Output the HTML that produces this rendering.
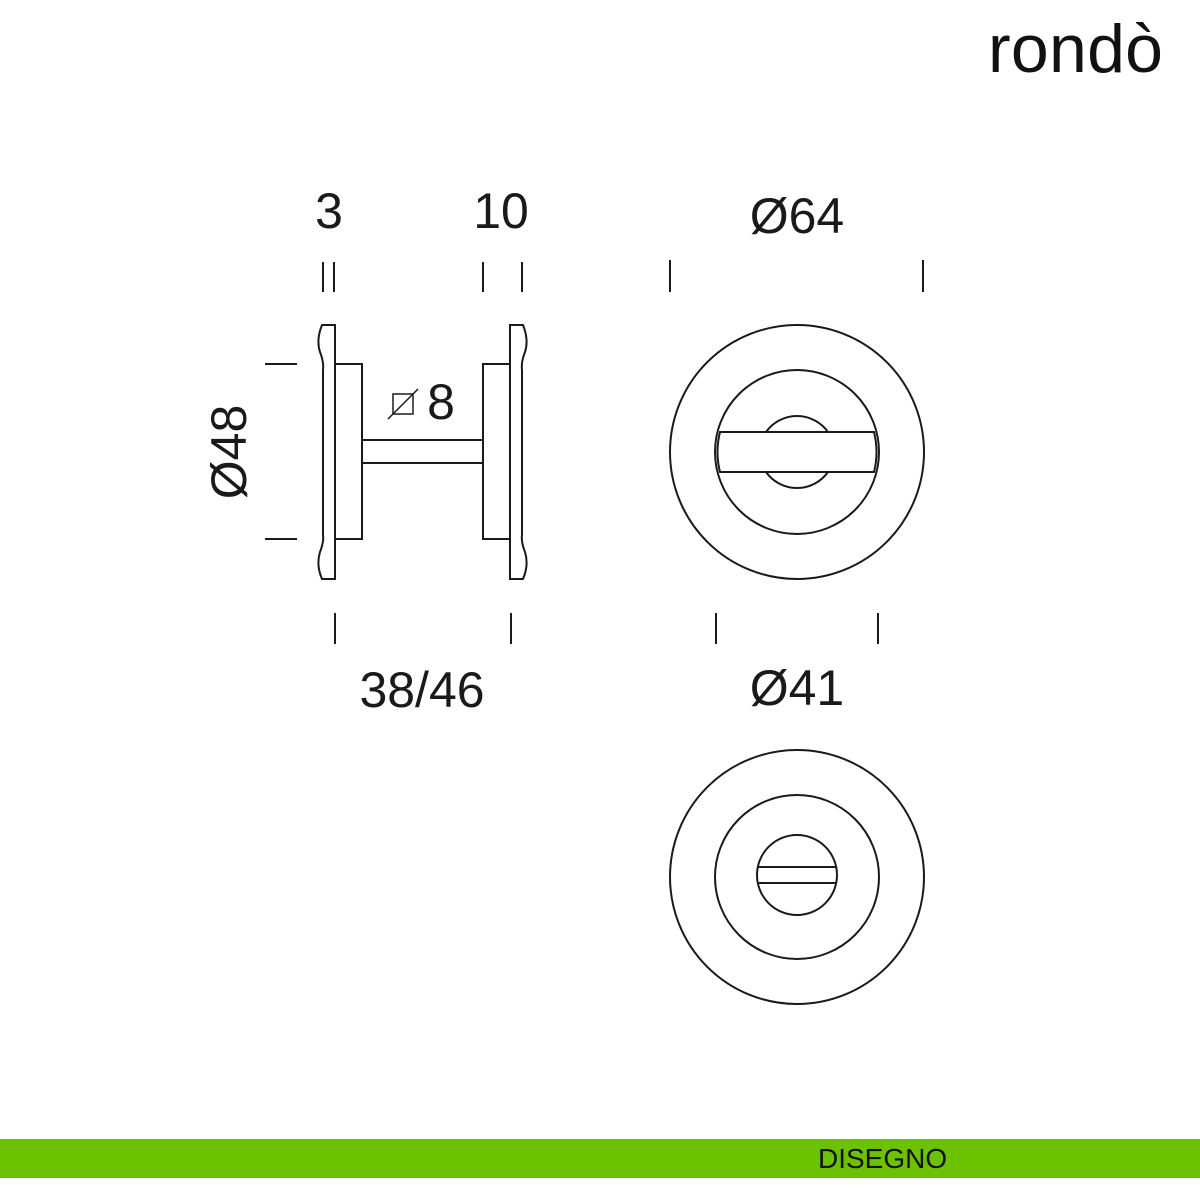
<!DOCTYPE html>
<html><head><meta charset="utf-8"><style>
html,body{margin:0;padding:0;background:#fff;width:1200px;height:1200px;overflow:hidden}
</style></head><body>
<svg width="1200" height="1200" viewBox="0 0 1200 1200" xmlns="http://www.w3.org/2000/svg" font-family="Liberation Sans, sans-serif">
<rect width="1200" height="1200" fill="#fff"/>
<text x="988" y="72" font-size="68" fill="#111" textLength="175">rondò</text>
<g fill="#1a1a1a" font-size="50">
<text x="329" y="228" text-anchor="middle">3</text>
<text x="501" y="228" text-anchor="middle">10</text>
<text x="797" y="233" text-anchor="middle">Ø64</text>
<text x="797" y="705" text-anchor="middle">Ø41</text>
<text x="422" y="707" text-anchor="middle">38/46</text>
<text x="441" y="419" text-anchor="middle">8</text>
<text transform="translate(246,452) rotate(-90)" text-anchor="middle">Ø48</text>
</g>
<g stroke="#1a1a1a" stroke-width="2" fill="none">
<line x1="323" y1="262" x2="323" y2="292"/><line x1="334" y1="262" x2="334" y2="292"/>
<line x1="483" y1="262" x2="483" y2="292"/><line x1="522" y1="262" x2="522" y2="292"/>
<line x1="670" y1="260" x2="670" y2="292"/><line x1="923" y1="260" x2="923" y2="292"/>
<line x1="335" y1="613" x2="335" y2="644"/><line x1="511" y1="613" x2="511" y2="644"/>
<line x1="716" y1="613" x2="716" y2="644"/><line x1="878" y1="613" x2="878" y2="644"/>
<line x1="265" y1="364" x2="297" y2="364"/><line x1="265" y1="539" x2="297" y2="539"/>
<path d="M322,325 L335,325 L335,579 L322,579 Q316,565 320,552 Q324,542 323,535 L323,370 Q324,362 320,352 Q316,340 322,325 Z"/>
<rect x="335" y="364" width="27" height="175"/>
<rect x="483" y="364" width="27" height="175"/>
<path d="M523,325 L510,325 L510,579 L523,579 Q529,565 525,552 Q521,542 522,535 L522,370 Q521,362 525,352 Q529,340 523,325 Z"/>
<rect x="362" y="440" width="121" height="23"/>
<rect x="393" y="394" width="20" height="20" stroke-width="1.5"/>
<line x1="388" y1="419" x2="418" y2="389" stroke-width="1.5"/>
<circle cx="797" cy="452" r="127"/>
<circle cx="797" cy="452" r="82"/>
<path d="M766,432 A38,38 0 0 1 828,432"/>
<path d="M766,472 A38,38 0 0 0 828,472"/>
<path d="M720,432 L874,432 A82,82 0 0 1 874,472 L720,472 A82,82 0 0 1 720,432 Z"/>
<circle cx="797" cy="877" r="127"/>
<circle cx="797" cy="877" r="82"/>
<circle cx="797" cy="875" r="40"/>
<line x1="758" y1="867" x2="836" y2="867"/>
<line x1="758" y1="883" x2="836" y2="883"/>
</g>
<rect x="0" y="1139" width="1200" height="39" fill="#6cc200"/>
<text x="818" y="1168" font-size="28" fill="#111">DISEGNO</text>
</svg>
</body></html>
